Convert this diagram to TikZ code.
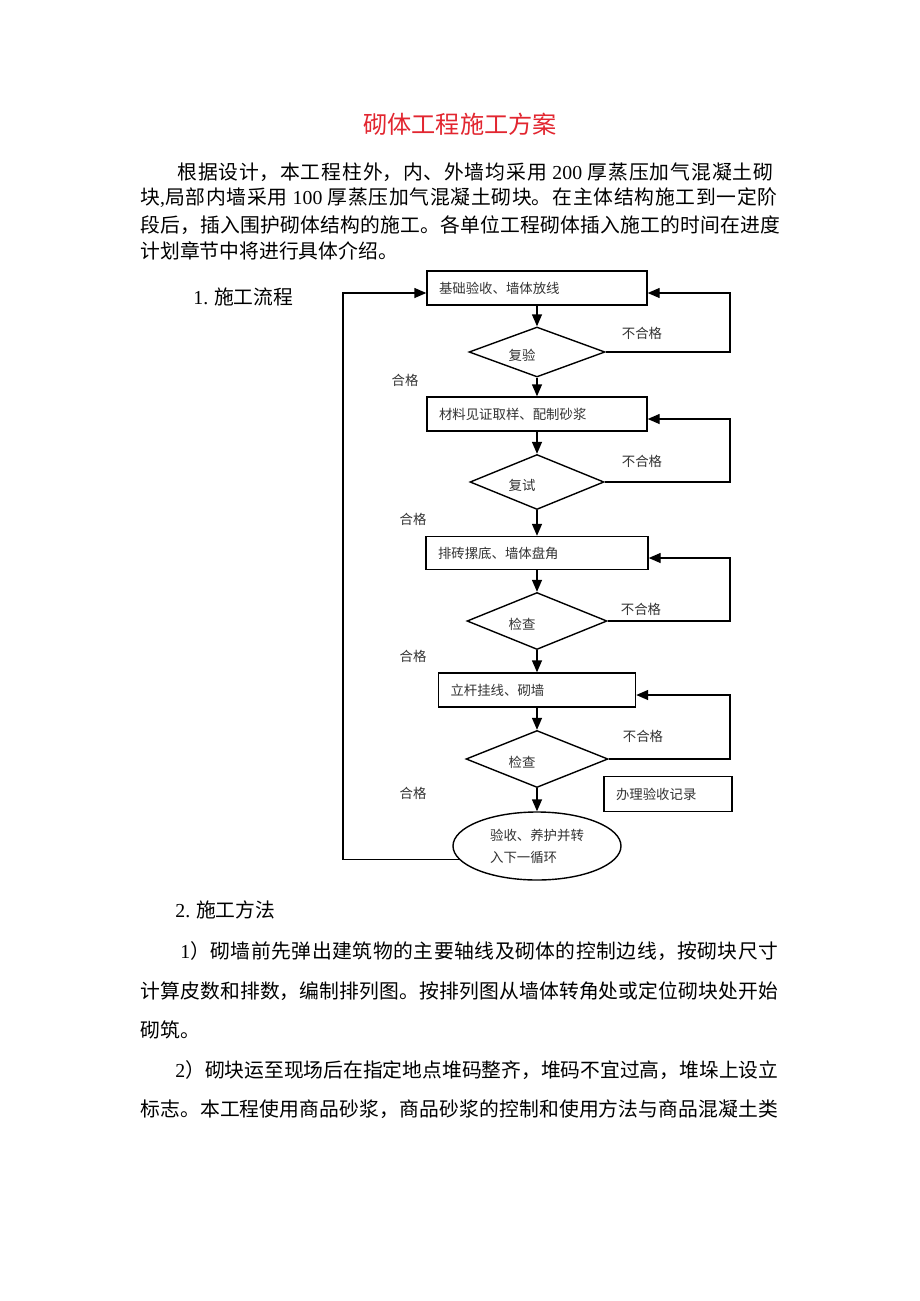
\documentclass[tikz,border=0pt]{standalone}
\usepackage{fontspec}
\setmainfont{Noto Sans CJK SC}
\newfontfamily\latin{Liberation Serif}
\usetikzlibrary{positioning,shapes.geometric,arrows.meta}
\XeTeXlinebreaklocale "zh"
\XeTeXlinebreakskip=0pt plus 1pt minus 0.1pt
\hbadness=10000
\definecolor{titlered}{RGB}{226,38,48}
\newcommand\bodyfont{\fontsize{9.9pt}{13pt}\selectfont}
\newcommand\flowfont{\fontsize{6.7pt}{11pt}\selectfont}

\tikzset{
  stepbox/.style={draw, line width=0.7pt, text width=#1, inner xsep=6pt, minimum height=17pt,
    align=left, font=\flowfont, text=black!80},
  check/.style={draw, diamond, line width=0.7pt, inner sep=0pt,
    label={[font=\flowfont, text=black!80, xshift=-7.5pt, yshift=-1.5pt]center:#1}},
  flow/.style={line width=0.7pt, -{Triangle[length=6pt,width=5pt]}},
  remark/.style={font=\flowfont, text=black!80, inner sep=0pt},
  bodyline/.style={anchor=west, inner sep=0pt, text width=#1, align=justify, font=\bodyfont,
    execute at begin node={\parindent=0pt\parfillskip=0pt\relax}},
  bodyend/.style={anchor=west, inner sep=0pt, font=\bodyfont}
}

\begin{document}
\begin{tikzpicture}[x=0.5pt,y=-0.5pt,node distance=32pt,on grid]
   \fill[white] (0,0) rectangle (920,1301);
   \useasboundingbox (0,0) rectangle (920,1301);

   \node[font=\fontsize{12.1pt}{14pt}\selectfont, text=titlered] (title) at (460,124) {砌体工程施工方案};

   \node[bodyline=298pt] (p_1) at (177,172) {根据设计，本工程柱外，内、外墙均采用 {\latin 200} 厚蒸压加气混凝土砌};
   \node[bodyline=318.5pt] (p_2) at (140,198) {块{\latin ,}局部内墙采用 {\latin 100} 厚蒸压加气混凝土砌块。在主体结构施工到一定阶};
   \node[bodyline=320pt] (p_3) at (140,225) {段后，插入围护砌体结构的施工。各单位工程砌体插入施工的时间在进度};
   \node[bodyend] (p_4) at (140,251) {计划章节中将进行具体介绍。};

   \node[bodyend] (h_1) at (193,297) {{\latin 1.} 施工流程};

   \node[stepbox=98pt] (s_1) at (537,288) {基础验收、墙体放线};
   \node[check=复验, minimum width=68pt, minimum height=25pt, below=32pt of s_1] (c_1) {};
   \node[stepbox=98pt, below=31pt of c_1] (s_2) {材料见证取样、配制砂浆};
   \node[check=复试, minimum width=67pt, minimum height=27.5pt, below=34pt of s_2] (c_2) {};
   \node[stepbox=99pt, minimum height=16.5pt, below=35.5pt of c_2] (s_3) {排砖摞底、墙体盘角};
   \node[check=检查, minimum width=70pt, minimum height=28.5pt, below=34pt of s_3] (c_3) {};
   \node[stepbox=86.5pt, below=34.5pt of c_3] (s_4) {立杆挂线、砌墙};
   \node[check=检查, minimum width=71pt, minimum height=28.5pt, below=34.5pt of s_4] (c_4) {};
   \node[draw, ellipse, line width=0.7pt, minimum width=84pt, minimum height=34pt, inner sep=0pt,
     align=left, font=\flowfont, text=black!80, below=43.5pt of c_4] (e) {验收、养护并转\\入下一循环};
   \node[stepbox=52pt, minimum height=17.5pt] (r) at (668,794) {办理验收记录};

   \coordinate (rx) at (730,0);
   \coordinate (lx) at (343,0);

   \path[flow]
    (s_1) edge (c_1)
    (c_1) edge (s_2)
    (s_2) edge (c_2)
    (c_2) edge (s_3)
    (s_3) edge (c_3)
    (c_3) edge (s_4)
    (s_4) edge (c_4)
    (c_4) edge (e);

   \draw[flow] (c_1.east) -- (c_1.east -| rx) |- ([yshift=-2.5pt]s_1.east);
   \draw[flow] (c_2.east) -- (c_2.east -| rx) |- ([yshift=-2.5pt]s_2.east);
   \draw[flow] (c_3.east) -- (c_3.east -| rx) |- ([yshift=-2.5pt]s_3.east);
   \draw[flow] (c_4.east) -- (c_4.east -| rx) |- ([yshift=-2.5pt]s_4.east);
   \draw[flow] (e.190) -- (e.190 -| lx) |- ([yshift=-2.5pt]s_1.west);

   \node[remark] (n_1) at (642,333) {不合格};
   \node[remark] (n_2) at (642,461) {不合格};
   \node[remark] (n_3) at (641,609) {不合格};
   \node[remark] (n_4) at (643,736) {不合格};
   \node[remark] (y_1) at (405,380) {合格};
   \node[remark] (y_2) at (413,519) {合格};
   \node[remark] (y_3) at (413,656) {合格};
   \node[remark] (y_4) at (413,793) {合格};

   \node[bodyend] (h_2) at (175,910) {{\latin 2.} 施工方法};
   \node[bodyline=299pt] (q_1) at (180,951) {{\latin 1}）砌墙前先弹出建筑物的主要轴线及砌体的控制边线，按砌块尺寸};
   \node[bodyline=319pt] (q_2) at (140,991) {计算皮数和排数，编制排列图。按排列图从墙体转角处或定位砌块处开始};
   \node[bodyend] (q_3) at (140,1030) {砌筑。};
   \node[bodyline=301.5pt] (q_4) at (175,1070) {{\latin 2}）砌块运至现场后在指定地点堆码整齐，堆码不宜过高，堆垛上设立};
   \node[bodyline=319pt] (q_5) at (140,1109) {标志。本工程使用商品砂浆，商品砂浆的控制和使用方法与商品混凝土类};
\end{tikzpicture}
\end{document}
